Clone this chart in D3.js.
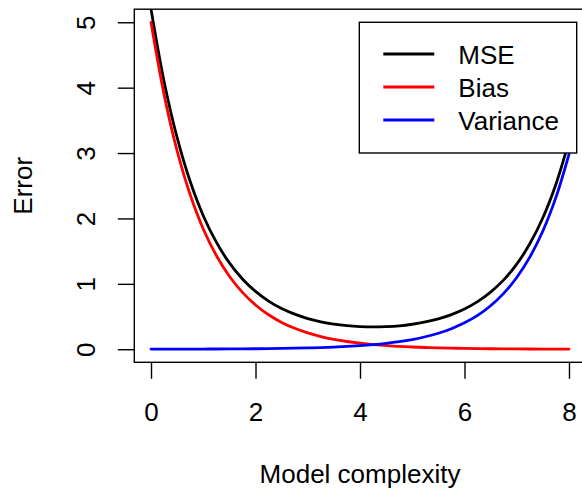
<!DOCTYPE html>
<html>
<head>
<meta charset="utf-8">
<script src="https://cdn.jsdelivr.net/npm/d3@7"></script>
<style>
  html, body { margin: 0; padding: 0; background: #fff; }
  svg { display: block; font-family: "Liberation Sans", Arial, Helvetica, sans-serif; }
</style>
</head>
<body>
<svg id="chart" width="582" height="492"></svg>
<script>
// ---- data ----
const complexity = [0, 0.25, 0.5, 0.75, 1, 1.25, 1.5, 1.75, 2, 2.25, 2.5, 2.75, 3, 3.25, 3.5, 3.75,
  4, 4.25, 4.5, 4.75, 5, 5.25, 5.5, 5.75, 6, 6.25, 6.5, 6.75, 7, 7.25, 7.5, 7.75, 8];
const mse = [5.201, 4.095, 3.235, 2.564, 2.042, 1.637, 1.320, 1.075, 0.884, 0.736, 0.622, 0.536,
  0.469, 0.420, 0.384, 0.360, 0.346, 0.341, 0.346, 0.358, 0.382, 0.417, 0.465, 0.530, 0.615,
  0.728, 0.873, 1.060, 1.301, 1.612, 2.011, 2.524, 3.183];
const bias = [5.000, 3.894, 3.033, 2.362, 1.839, 1.433, 1.116, 0.869, 0.677, 0.527, 0.410, 0.320,
  0.249, 0.194, 0.151, 0.118, 0.092, 0.071, 0.056, 0.043, 0.034, 0.026, 0.020, 0.016, 0.012,
  0.0097, 0.0075, 0.0059, 0.0046, 0.0036, 0.0028, 0.0022, 0.0017];
const variance = [0.001, 0.0013, 0.0016, 0.0021, 0.0027, 0.0035, 0.0045, 0.0058, 0.0074, 0.0095,
  0.0122, 0.0156, 0.0201, 0.0258, 0.0331, 0.0425, 0.0546, 0.0701, 0.0900, 0.1156, 0.1484,
  0.1906, 0.2447, 0.3142, 0.4034, 0.5180, 0.6651, 0.8539, 1.0966, 1.408, 1.808, 2.322, 2.981];
const seriesNames = ["MSE", "Bias", "Variance"];
const seriesColors = ["#000000", "#ff0000", "#0000ff"];
const xTicks = [0, 2, 4, 6, 8];
const yTicks = [0, 1, 2, 3, 4, 5];
const xLabel = "Model complexity";
const yLabel = "Error";

// ---- layout ----
const svg = d3.select("#chart");
const plot = { left: 134.3, right: 585.7, top: 9.2, bottom: 362.3 };
const x = d3.scaleLinear().domain([-0.32, 8.32]).range([plot.left, plot.right]);
const y = d3.scaleLinear().domain([-0.2, 5.2]).range([plot.bottom, plot.top]);
const fontSize = 26;

svg.append("defs").append("clipPath").attr("id", "clip")
  .append("rect")
  .attr("x", plot.left).attr("y", plot.top)
  .attr("width", plot.right - plot.left).attr("height", plot.bottom - plot.top);

// curves
const allSeries = [mse, bias, variance];
const line = d3.line()
  .x((d, i) => x(complexity[i]))
  .y(d => y(d))
  .curve(d3.curveCatmullRom.alpha(0.5));

const curves = svg.append("g").attr("clip-path", "url(#clip)");
allSeries.forEach((vals, k) => {
  curves.append("path")
    .datum(vals)
    .attr("d", line)
    .attr("fill", "none")
    .attr("stroke", seriesColors[k])
    .attr("stroke-width", 2.8)
    .attr("stroke-linejoin", "round")
    .attr("stroke-linecap", "round");
});

// box
svg.append("rect")
  .attr("x", plot.left).attr("y", plot.top)
  .attr("width", plot.right - plot.left).attr("height", plot.bottom - plot.top)
  .attr("fill", "none").attr("stroke", "#000").attr("stroke-width", 1.4);

// x axis
const xAxis = svg.append("g")
  .attr("transform", `translate(0,${plot.bottom})`)
  .call(d3.axisBottom(x).tickValues(xTicks).tickSize(16.5).tickPadding(23.5).tickFormat(d3.format("d")));
xAxis.select(".domain").remove();
xAxis.selectAll(".tick line").attr("stroke", "#000").attr("stroke-width", 1.4);
xAxis.selectAll(".tick text")
  .attr("font-size", fontSize).attr("fill", "#000")
  .attr("font-family", "Liberation Sans, Arial, sans-serif");

// y axis
const yAxis = svg.append("g")
  .attr("transform", `translate(${plot.left},0)`)
  .call(d3.axisLeft(y).tickValues(yTicks).tickSize(16.5).tickFormat(d3.format("d")));
yAxis.select(".domain").remove();
yAxis.selectAll(".tick line").attr("stroke", "#000").attr("stroke-width", 1.4);
yAxis.selectAll(".tick text")
  .attr("font-size", fontSize).attr("fill", "#000")
  .attr("font-family", "Liberation Sans, Arial, sans-serif")
  .attr("text-anchor", "middle")
  .attr("x", 0).attr("y", -39.3).attr("dy", 0)
  .attr("transform", "rotate(-90)");

// axis titles
svg.append("text")
  .attr("x", (plot.left + plot.right) / 2).attr("y", 483)
  .attr("text-anchor", "middle").attr("font-size", fontSize).attr("fill", "#000")
  .text(xLabel);
svg.append("text")
  .attr("transform", `translate(31.7,${(plot.top + plot.bottom) / 2}) rotate(-90)`)
  .attr("text-anchor", "middle").attr("font-size", fontSize).attr("fill", "#000")
  .text(yLabel);

// legend
const legend = svg.append("g");
legend.append("rect")
  .attr("x", 359.3).attr("y", 22.3).attr("width", 217.4).attr("height", 130.7)
  .attr("fill", "#fff").attr("stroke", "#000").attr("stroke-width", 1.4);
seriesNames.forEach((name, k) => {
  const ly = 54 + k * 33;
  legend.append("line")
    .attr("x1", 383.3).attr("x2", 434.3).attr("y1", ly).attr("y2", ly)
    .attr("stroke", seriesColors[k]).attr("stroke-width", 2.8);
  legend.append("text")
    .attr("x", 458.3).attr("y", ly).attr("dy", "0.37em")
    .attr("font-size", fontSize).attr("fill", "#000")
    .text(name);
});
</script>
</body>
</html>
